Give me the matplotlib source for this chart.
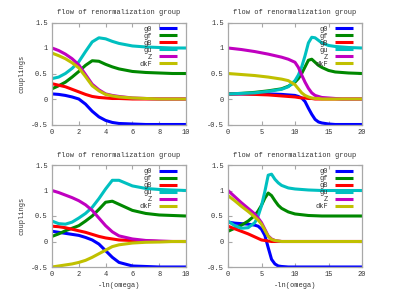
import numpy as np
import matplotlib
matplotlib.use('Agg')
import matplotlib.pyplot as plt
from matplotlib.ticker import FuncFormatter

plt.rcParams['font.family'] = ['Liberation Mono', 'DejaVu Sans Mono']

names = ['g0', 'gf', 'gB', 'gu', 'Z', 'dkF']
colors = ['#0000ff', '#008800', '#ff0000', '#00c0c0', '#c000c0', '#c0c000']

# panel 1 (top left)
x1 = [0, 0.5, 1, 1.5, 2, 2.5, 3, 3.5, 4, 4.5, 5, 6, 7, 8, 9, 10]
p1_g0 = [0.1, 0.09, 0.07, 0.04, 0.0, -0.1, -0.24, -0.35, -0.42, -0.46, -0.48, -0.49, -0.5, -0.5, -0.5, -0.5]
p1_gf = [0.2, 0.26, 0.33, 0.43, 0.54, 0.66, 0.75, 0.74, 0.68, 0.63, 0.59, 0.54, 0.52, 0.51, 0.5, 0.5]
p1_gB = [0.3, 0.27, 0.24, 0.19, 0.14, 0.09, 0.05, 0.03, 0.02, 0.01, 0.01, 0.0, 0, 0, 0, 0]
p1_gu = [0.4, 0.43, 0.5, 0.6, 0.73, 0.93, 1.12, 1.2, 1.18, 1.13, 1.09, 1.04, 1.02, 1.01, 1.0, 1.0]
p1_Z = [1.0, 0.95, 0.88, 0.79, 0.67, 0.48, 0.29, 0.18, 0.1, 0.07, 0.05, 0.02, 0.01, 0.0, 0, 0]
p1_dkF = [0.9, 0.85, 0.79, 0.71, 0.61, 0.44, 0.26, 0.16, 0.09, 0.06, 0.04, 0.02, 0.01, 0, 0, 0]

# panel 2 (top right)
x2 = [0, 2, 4, 6, 8, 9, 10, 10.5, 11, 11.5, 12, 12.5, 13, 13.5, 14, 15, 16, 17, 18, 20]
p2_g0 = [0.1, 0.1, 0.1, 0.1, 0.09, 0.08, 0.07, 0.05, 0.02, -0.05, -0.18, -0.3, -0.4, -0.45, -0.47, -0.49, -0.5, -0.5, -0.5, -0.5]
p2_gf = [0.1, 0.11, 0.13, 0.16, 0.2, 0.25, 0.33, 0.4, 0.5, 0.63, 0.76, 0.78, 0.72, 0.66, 0.62, 0.56, 0.53, 0.52, 0.51, 0.5]
p2_gB = [0.1, 0.1, 0.09, 0.08, 0.06, 0.05, 0.04, 0.03, 0.02, 0.02, 0.01, 0.01, 0.0, 0, 0, 0, 0, 0, 0, 0]
p2_gu = [0.1, 0.11, 0.12, 0.15, 0.19, 0.24, 0.36, 0.47, 0.63, 0.85, 1.1, 1.21, 1.2, 1.15, 1.1, 1.05, 1.03, 1.02, 1.01, 1.0]
p2_Z = [1.0, 0.97, 0.93, 0.88, 0.82, 0.78, 0.72, 0.62, 0.47, 0.33, 0.21, 0.12, 0.07, 0.05, 0.03, 0.02, 0.01, 0, 0, 0]
p2_dkF = [0.5, 0.48, 0.46, 0.43, 0.39, 0.36, 0.28, 0.2, 0.12, 0.07, 0.04, 0.02, 0.01, 0.01, 0, 0, 0, 0, 0, 0]

# panel 3 (bottom left)
x3 = [0, 0.5, 1, 1.5, 2, 2.5, 3, 3.5, 4, 4.5, 5, 6, 7, 8, 9, 10]
p3_g0 = [0.2, 0.18, 0.16, 0.14, 0.12, 0.08, 0.03, -0.05, -0.18, -0.31, -0.41, -0.48, -0.49, -0.5, -0.5, -0.5]
p3_gf = [0.1, 0.15, 0.21, 0.26, 0.31, 0.4, 0.5, 0.63, 0.77, 0.79, 0.73, 0.61, 0.55, 0.52, 0.51, 0.5]
p3_gB = [0.3, 0.29, 0.27, 0.24, 0.21, 0.18, 0.14, 0.1, 0.07, 0.05, 0.03, 0.02, 0.01, 0, 0, 0]
p3_gu = [0.4, 0.35, 0.34, 0.38, 0.46, 0.55, 0.67, 0.84, 1.03, 1.2, 1.2, 1.09, 1.04, 1.02, 1.01, 1.0]
p3_Z = [1.0, 0.96, 0.91, 0.86, 0.8, 0.72, 0.61, 0.46, 0.31, 0.19, 0.11, 0.05, 0.02, 0.01, 0, 0]
p3_dkF = [-0.5, -0.48, -0.46, -0.44, -0.41, -0.37, -0.31, -0.24, -0.17, -0.1, -0.065, -0.03, -0.015, -0.01, 0, 0]

# panel 4 (bottom right)
x4 = [0, 1, 2, 3, 4, 4.5, 5, 5.5, 6, 6.5, 7, 7.5, 8, 9, 10, 12, 14, 17, 20]
p4_g0 = [0.38, 0.36, 0.35, 0.34, 0.32, 0.3, 0.24, 0.12, -0.12, -0.35, -0.44, -0.48, -0.49, -0.5, -0.5, -0.5, -0.5, -0.5, -0.5]
p4_gf = [0.2, 0.26, 0.32, 0.4, 0.51, 0.6, 0.71, 0.85, 0.95, 0.9, 0.8, 0.71, 0.65, 0.58, 0.54, 0.51, 0.5, 0.5, 0.5]
p4_gB = [0.3, 0.25, 0.2, 0.15, 0.09, 0.06, 0.03, 0.02, 0.01, 0.0, 0, 0, 0, 0, 0, 0, 0, 0, 0]
p4_gu = [0.4, 0.31, 0.26, 0.27, 0.37, 0.5, 0.7, 0.98, 1.3, 1.32, 1.22, 1.15, 1.1, 1.05, 1.03, 1.01, 1.0, 1.0, 1.0]
p4_Z = [1.0, 0.88, 0.76, 0.65, 0.54, 0.46, 0.37, 0.24, 0.11, 0.05, 0.02, 0.01, 0, 0, 0, 0, 0, 0, 0]
p4_dkF = [0.9, 0.8, 0.69, 0.59, 0.48, 0.42, 0.34, 0.22, 0.1, 0.04, 0.02, 0.01, 0, 0, 0, 0, 0, 0, 0]

panels = [
    (x1, [p1_g0, p1_gf, p1_gB, p1_gu, p1_Z, p1_dkF], [0, 2, 4, 6, 8, 10]),
    (x2, [p2_g0, p2_gf, p2_gB, p2_gu, p2_Z, p2_dkF], [0, 5, 10, 15, 20]),
    (x3, [p3_g0, p3_gf, p3_gB, p3_gu, p3_Z, p3_dkF], [0, 2, 4, 6, 8, 10]),
    (x4, [p4_g0, p4_gf, p4_gB, p4_gu, p4_Z, p4_dkF], [0, 5, 10, 15, 20]),
]
yticks = [-0.5, 0, 0.5, 1, 1.5]

# axes rectangles in figure fractions (left, bottom, width, height)
rects = [
    [0.13, 0.585, 0.335, 0.34],
    [0.57, 0.585, 0.335, 0.34],
    [0.13, 0.11, 0.335, 0.34],
    [0.57, 0.11, 0.335, 0.34],
]

fig = plt.figure(figsize=(4, 3), dpi=100)
fmt = FuncFormatter(lambda v, p: ('%g' % v))
txt = '#333333'
frame = '#a8a8a8'

for i, (xs, series, xt) in enumerate(panels):
    ax = fig.add_axes(rects[i])
    for name, ys, c in zip(names, series, colors):
        ax.plot(xs, ys, color=c, lw=2.2, label=name, solid_capstyle='butt')
    ax.set_xlim(xt[0], xt[-1])
    ax.set_ylim(-0.5, 1.5)
    ax.set_xticks(xt)
    ax.set_yticks(yticks)
    ax.xaxis.set_major_formatter(fmt)
    ax.yaxis.set_major_formatter(fmt)
    ax.tick_params(direction='in', length=3, width=0.8, color=frame, labelsize=5,
                   labelcolor=txt, top=True, right=True, pad=3)
    for s in ax.spines.values():
        s.set_color(frame)
        s.set_linewidth(0.9)
    ax.set_title('flow of renormalization group', fontsize=5, color=txt, pad=6)
    if i % 2 == 0:
        ax.set_ylabel('couplings', fontsize=5, color=txt, labelpad=4)
    if i >= 2:
        ax.set_xlabel('-ln(omega)', fontsize=5, color=txt, labelpad=3)
    leg = ax.legend(loc='upper right', bbox_to_anchor=(0.935, 0.97), frameon=False,
                    markerfirst=False, fontsize=5, handlelength=2.7, handletextpad=0.9,
                    labelspacing=0.0, borderpad=0, borderaxespad=0)
    for t in leg.get_texts():
        t.set_color(txt)

fig.savefig('out.png', dpi=100)
